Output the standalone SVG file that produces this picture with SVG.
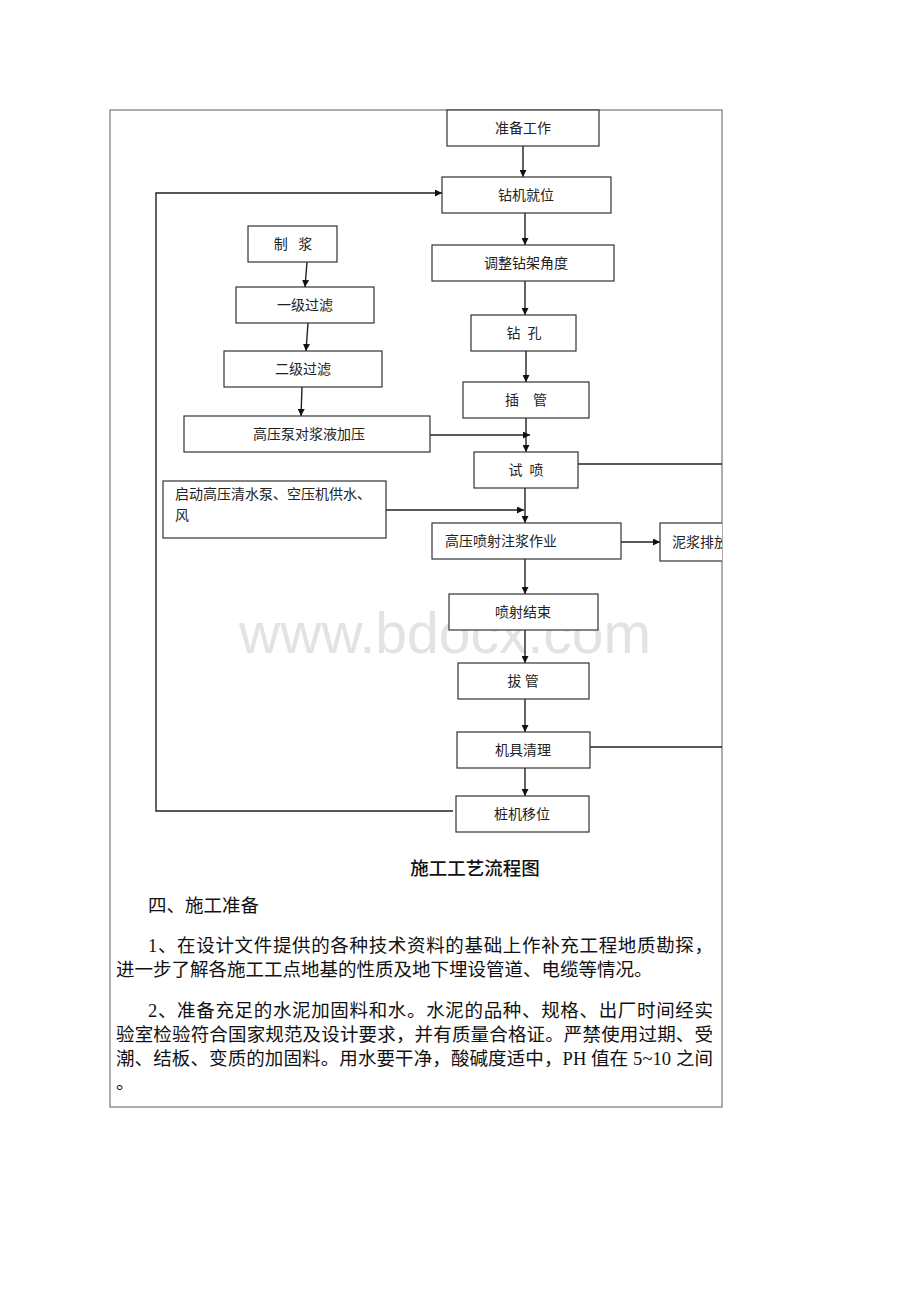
<svg xmlns="http://www.w3.org/2000/svg" width="920" height="1302" viewBox="0 0 920 1302">
<style>
.box{fill:#fff;stroke:#333;stroke-width:1.2}
.bt{font-family:"Liberation Serif","Noto Sans CJK SC",serif;font-size:14px;fill:#222;text-anchor:middle;dominant-baseline:central}
.lt{font-family:"Liberation Serif","Noto Sans CJK SC",serif;font-size:14px;fill:#222}
.ln{fill:none;stroke:#222;stroke-width:1.4}
.body{font-family:"Liberation Serif","Noto Sans CJK SC",serif;font-size:18.5px;fill:#111}
.cap{font-family:"Liberation Sans","Noto Sans CJK SC",sans-serif;font-size:18.5px;fill:#111;text-anchor:middle;font-weight:500}
.wm{font-family:"Liberation Sans",Arial,sans-serif;font-size:57px;fill:#e3e3e3;text-anchor:middle}
</style>
<defs>
<marker id="ah" viewBox="0 0 10 10" refX="10" refY="5" markerWidth="7" markerHeight="7" markerUnits="userSpaceOnUse" orient="auto"><path d="M0,0 L10,5 L0,10 z" fill="#111"/></marker>
<clipPath id="frameclip"><rect x="110" y="110" width="612" height="997"/></clipPath>
</defs>
<rect width="920" height="1302" fill="#fff"/>
<text class="wm" x="445" y="653">www.bdocx.com</text>
<rect x="110" y="110" width="612" height="997" fill="none" stroke="#777" stroke-width="1.2"/>
<g id="connectors">
<path class="ln" d="M523,146 V177" marker-end="url(#ah)"/>
<path class="ln" d="M453,811 H156 V193 H442" marker-end="url(#ah)"/>
<path class="ln" d="M525,213 V245" marker-end="url(#ah)"/>
<path class="ln" d="M525,281 V315" marker-end="url(#ah)"/>
<path class="ln" d="M526,351 V382" marker-end="url(#ah)"/>
<path class="ln" d="M526,418 V452" marker-end="url(#ah)"/>
<path class="ln" d="M430,435 H530" marker-end="url(#ah)"/>
<path class="ln" d="M307,262 L305,287" marker-end="url(#ah)"/>
<path class="ln" d="M308,323 L306,351" marker-end="url(#ah)"/>
<path class="ln" d="M302,387 L301,416" marker-end="url(#ah)"/>
<path class="ln" d="M525,488 V523" marker-end="url(#ah)"/>
<path class="ln" d="M386,510 H524" marker-end="url(#ah)"/>
<path class="ln" d="M578,464 H722"/>
<path class="ln" d="M590,747 H722"/>
<path class="ln" d="M621,542 H660" marker-end="url(#ah)"/>
<path class="ln" d="M525,559 V594" marker-end="url(#ah)"/>
<path class="ln" d="M525,630 V663" marker-end="url(#ah)"/>
<path class="ln" d="M525,699 V732" marker-end="url(#ah)"/>
<path class="ln" d="M525,768 V796" marker-end="url(#ah)"/>
</g>
<g id="n1"><rect class="box" x="447" y="110" width="152" height="36"/><text class="bt" x="523" y="128">准备工作</text></g>
<g id="n2"><rect class="box" x="442" y="177" width="169" height="36"/><text class="bt" x="526" y="195">钻机就位</text></g>
<g id="n3"><rect class="box" x="432" y="245" width="182" height="36"/><text class="bt" x="526" y="263">调整钻架角度</text></g>
<g id="n4"><rect class="box" x="471" y="315" width="105" height="36"/><text class="bt" x="524" y="333" xml:space="preserve">钻  孔</text></g>
<g id="n5"><rect class="box" x="463" y="382" width="126" height="36"/><text class="bt" x="526" y="400" xml:space="preserve">插    管</text></g>
<g id="n6"><rect class="box" x="474" y="452" width="104" height="36"/><text class="bt" x="526" y="470" xml:space="preserve">试  喷</text></g>
<g id="n7"><rect class="box" x="432" y="523" width="189" height="36"/><text class="lt" x="445" y="546">高压喷射注浆作业</text></g>
<g id="n8" clip-path="url(#frameclip)"><rect class="box" x="660" y="523" width="80" height="38"/><text class="lt" x="672" y="547">泥浆排放</text></g>
<g id="n9"><rect class="box" x="449" y="594" width="149" height="36"/><text class="bt" x="523" y="612">喷射结束</text></g>
<g id="n10"><rect class="box" x="458" y="663" width="131" height="36"/><text class="bt" x="523" y="681">拔 管</text></g>
<g id="n11"><rect class="box" x="457" y="732" width="133" height="36"/><text class="bt" x="523" y="750">机具清理</text></g>
<g id="n12"><rect class="box" x="456" y="796" width="133" height="36"/><text class="bt" x="522" y="814">桩机移位</text></g>
<g id="l1"><rect class="box" x="248" y="226" width="89" height="36"/><text class="bt" x="293" y="244" xml:space="preserve">制   浆</text></g>
<g id="l2"><rect class="box" x="236" y="287" width="138" height="36"/><text class="bt" x="305" y="305">一级过滤</text></g>
<g id="l3"><rect class="box" x="224" y="351" width="158" height="36"/><text class="bt" x="303" y="369">二级过滤</text></g>
<g id="l4"><rect class="box" x="184" y="416" width="246" height="36"/><text class="bt" x="309" y="434">高压泵对浆液加压</text></g>
<g id="l5"><rect class="box" x="163" y="481" width="223" height="57"/><text class="lt" x="175" y="499">启动高压清水泵、空压机供水、</text><text class="lt" x="175" y="520">风</text></g>
<text class="cap" x="475" y="875">施工工艺流程图</text>
<text class="body" x="148" y="912">四、施工准备</text>
<text class="body" x="148" y="952" textLength="565" lengthAdjust="spacing">1、在设计文件提供的各种技术资料的基础上作补充工程地质勘探，</text>
<text class="body" x="116" y="976">进一步了解各施工工点地基的性质及地下埋设管道、电缆等情况。</text>
<text class="body" x="148" y="1017" textLength="565" lengthAdjust="spacing">2、准备充足的水泥加固料和水。水泥的品种、规格、出厂时间经实</text>
<text class="body" x="116" y="1041" textLength="597" lengthAdjust="spacing">验室检验符合国家规范及设计要求，并有质量合格证。严禁使用过期、受</text>
<text class="body" x="116" y="1065" textLength="597" lengthAdjust="spacing">潮、结板、变质的加固料。用水要干净，酸碱度适中，PH 值在 5~10 之间</text>
<text class="body" x="116" y="1089">。</text>
</svg>
